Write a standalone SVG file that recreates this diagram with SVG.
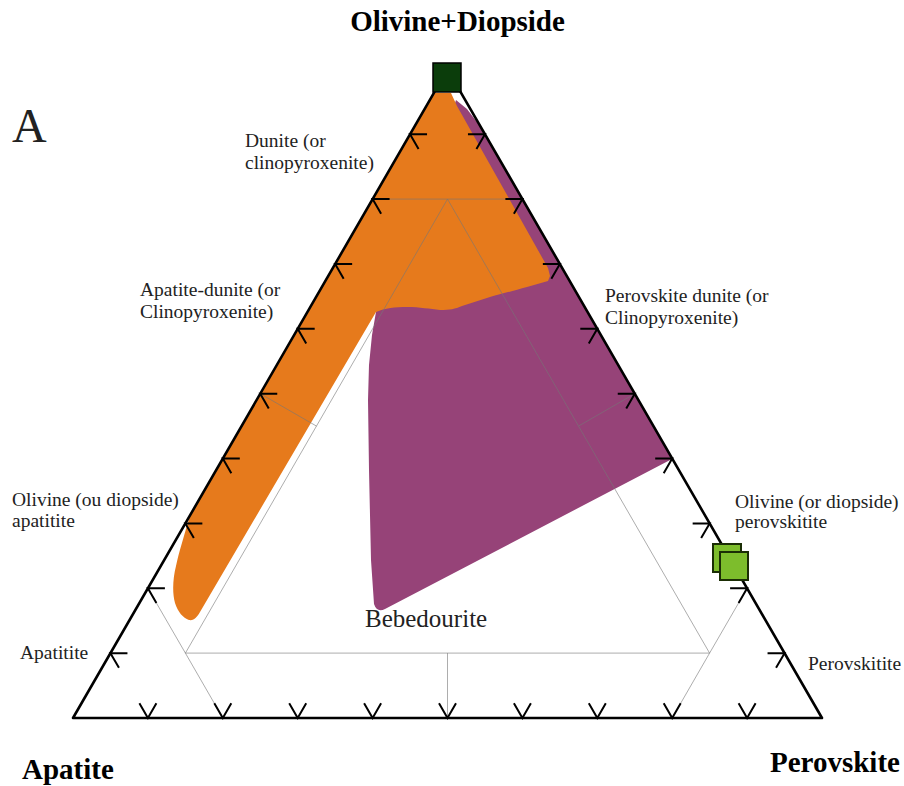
<svg xmlns="http://www.w3.org/2000/svg" xmlns:xlink="http://www.w3.org/1999/xlink" width="904" height="786" viewBox="0 0 904 786">
<style>
.lbl{font-family:"Liberation Serif","Times New Roman",serif;font-size:19.5px;fill:#222}
.ttl{font-family:"Liberation Serif","Times New Roman",serif;font-size:29px;font-weight:bold;fill:#000}
.grid{fill:none;stroke:#777;stroke-opacity:0.6;stroke-width:1}
.tick{fill:none;stroke:#000;stroke-width:2}
.edge{fill:none;stroke:#000;stroke-width:2.6;stroke-linejoin:round}
.sq{fill:#7dbd2c;stroke:#1b2e05;stroke-width:2}
</style>
<defs>
<path id="tb" d="M-8.5,-14.7 L0,0 L8.5,-14.7"/>
<path id="tl" d="M17,0 L0,0 L8.5,14.7"/>
<path id="tr" d="M-17,0 L0,0 L-8.5,14.7"/>
</defs>
<rect width="904" height="786" fill="#fff"/>

<g id="field-bebedourite">
<path fill="#964378" d="M456,100 L467,109 L480,126 L672,459 L385,609 Q377,613 374,604 L371,560 L369,470 L368,400 L369,365 L372,335 L376,312 L440,150 Z"/>
</g>
<g id="field-dunite">
<path fill="#e67a1c" d="M434.2,93 L451,93 L457,106 L548,268 L550,276 L548,281 L527,287 C512,291 498,295 490,297 L462,306 C455,309 450,310 440,310 C430,309 420,307 407,307 C395,307 385,308 376,312 L200,612 C197,617 194,621 189,620 C183,618 178,612 175,603 C172,592 173,578 176,566 C179,552 184,536 190.2,515 Z"/>
</g>

<g id="grid">
<path class="grid" d="M372.6,199.1 L522.4,199.1"/>
<path class="grid" d="M447.5,199.1 L185.4,653.1 L709.6,653.1 Z"/>
<path class="grid" d="M147.9,588.3 L185.4,653.1 L222.8,718"/>
<path class="grid" d="M747.1,588.3 L709.6,653.1 L672.2,718"/>
<path class="grid" d="M447.5,653.1 L447.5,718"/>
<path class="grid" d="M316.5,426.1 L260.3,393.7"/>
<path class="grid" d="M578.5,426.1 L634.8,393.7"/>
</g>

<g id="triangle">
<path class="edge" d="M447.5,69.4 L822,718 L73,718 Z"/>
</g>

<g id="ticks" class="tick">
<use xlink:href="#tb" x="147.9" y="718"/>
<use xlink:href="#tb" x="222.8" y="718"/>
<use xlink:href="#tb" x="297.7" y="718"/>
<use xlink:href="#tb" x="372.6" y="718"/>
<use xlink:href="#tb" x="447.5" y="718"/>
<use xlink:href="#tb" x="522.4" y="718"/>
<use xlink:href="#tb" x="597.3" y="718"/>
<use xlink:href="#tb" x="672.2" y="718"/>
<use xlink:href="#tb" x="747.1" y="718"/>
<use xlink:href="#tl" x="110.45" y="653.14"/>
<use xlink:href="#tl" x="147.9" y="588.28"/>
<use xlink:href="#tl" x="185.35" y="523.42"/>
<use xlink:href="#tl" x="222.8" y="458.56"/>
<use xlink:href="#tl" x="260.25" y="393.7"/>
<use xlink:href="#tl" x="297.7" y="328.84"/>
<use xlink:href="#tl" x="335.15" y="263.98"/>
<use xlink:href="#tl" x="372.6" y="199.12"/>
<use xlink:href="#tl" x="410.05" y="134.26"/>
<use xlink:href="#tr" x="784.55" y="653.14"/>
<use xlink:href="#tr" x="747.1" y="588.28"/>
<use xlink:href="#tr" x="709.65" y="523.42"/>
<use xlink:href="#tr" x="672.2" y="458.56"/>
<use xlink:href="#tr" x="634.75" y="393.7"/>
<use xlink:href="#tr" x="597.3" y="328.84"/>
<use xlink:href="#tr" x="559.85" y="263.98"/>
<use xlink:href="#tr" x="522.4" y="199.12"/>
<use xlink:href="#tr" x="484.95" y="134.26"/>
</g>

<g id="apex-sample">
<rect x="433" y="63" width="28" height="29" fill="#0b3d0b" stroke="#000" stroke-width="1.5"/>
</g>
<g id="perovskitite-samples">
<rect class="sq" x="713" y="544" width="28" height="28"/>
<rect class="sq" x="720" y="552" width="28" height="28"/>
</g>

<g id="labels">
<text class="ttl" x="457.5" y="31" text-anchor="middle">Olivine+Diopside</text>
<text x="12" y="142" font-family="Liberation Serif, Times New Roman, serif" font-size="48" fill="#222">A</text>
<text class="lbl" x="245" y="147">Dunite (or</text>
<text class="lbl" x="245" y="169">clinopyroxenite)</text>
<text class="lbl" x="140" y="296">Apatite-dunite (or</text>
<text class="lbl" x="140" y="318">Clinopyroxenite)</text>
<text class="lbl" x="605" y="302">Perovskite dunite (or</text>
<text class="lbl" x="605" y="324">Clinopyroxenite)</text>
<text class="lbl" x="12" y="506">Olivine (ou diopside)</text>
<text class="lbl" x="12" y="527">apatitite</text>
<text class="lbl" x="735" y="508">Olivine (or diopside)</text>
<text class="lbl" x="735" y="528">perovskitite</text>
<text class="lbl" x="20" y="659">Apatitite</text>
<text class="lbl" x="808" y="670">Perovskitite</text>
<text x="365" y="627" font-family="Liberation Serif, Times New Roman, serif" font-size="25" fill="#222">Bebedourite</text>
<text class="ttl" x="22" y="779">Apatite</text>
<text class="ttl" x="770" y="772">Perovskite</text>
</g>
</svg>
